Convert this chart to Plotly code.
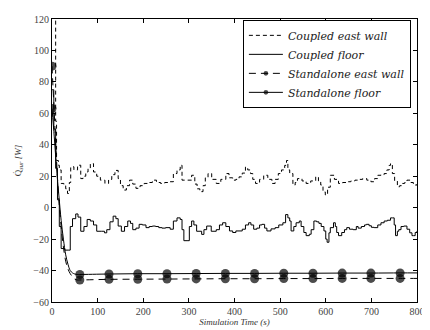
import plotly.graph_objects as go

# Coupled floor (step-like signal)
floor_t = [0, 4, 8, 12, 16, 20, 28, 37, 40, 45, 52, 57, 63, 70, 77, 84, 91, 98, 109, 115, 120, 127, 134, 140,
           145, 152, 159, 166, 172, 177, 184, 191, 198, 206, 213, 220, 227, 234, 241, 249, 259, 266, 274, 281,
           285, 289, 296, 301, 306, 311, 317, 328, 333, 339, 349, 360, 367, 374, 381, 389, 396, 403, 417, 424,
           431, 436, 442, 449, 455, 460, 466, 471, 480, 489, 497, 506, 512, 517, 521, 524, 530, 535, 542, 546,
           552, 557, 564, 568, 574, 580, 585, 590, 596, 600, 603, 607, 610, 617, 621, 624, 628, 635, 641, 646,
           652, 660, 667, 671, 678, 685, 689, 695, 700, 706, 714, 721, 728, 735, 742, 746, 750, 753, 757, 760,
           765, 771, 778, 784, 789, 792, 796, 800]
floor_v = [75, 50, 25, 5, -12, -26, -27, -27, -12, -7, -4, -6, -15, -12, -7.5, -8.5, -11, -15, -15, -16, -14, -9,
           -5.4, -7, -11.7, -15, -12, -8.5, -10, -14, -13, -10.6, -11, -12.7, -12, -11.7, -12, -12.7, -13, -12.7,
           -13.7, -8.5, -6.5, -7.5, -14, -21, -21, -12, -8.5, -11, -15, -17, -14, -11.7, -15, -14, -11, -9.6, -12,
           -14.8, -15.8, -14.8, -13.7, -11, -9.6, -11, -13.7, -13, -11, -10.6, -13, -14.8, -13.5, -12.7, -11,
           -9.6, -4.4, -6.5, -8.5, -14.8, -12, -9.6, -8.5, -12, -15.8, -17.8, -16.9, -14, -8.5, -9, -10, -12,
           -14.8, -20, -22, -16, -12.7, -9.6, -12, -15.8, -17.8, -15.8, -14, -12.7, -13.7, -14, -12, -13, -12,
           -11, -10.6, -11.5, -12.5, -12.7, -11, -9.6, -8.5, -8, -6.5, -6.5, -11, -17.8, -15, -14, -12, -11.7,
           -13.7, -16, -17.8, -17.8, -15.8, -14.8]

# Coupled east wall (step-like signal)
wall_t = [0, 5, 8, 10, 14, 16, 20, 26, 30, 34, 38, 41, 48, 56, 63, 68, 74, 79, 84, 91, 98, 106, 116, 124, 131,
          138, 145, 150, 156, 163, 170, 177, 184, 193, 202, 211, 220, 229, 238, 247, 256, 266, 274, 281, 285,
          296, 306, 313, 318, 324, 331, 336, 342, 350, 360, 370, 381, 388, 396, 403, 410, 417, 424, 429, 435,
          440, 446, 455, 464, 473, 482, 489, 496, 503, 510, 514, 517, 521, 528, 533, 538, 548, 557, 567, 578,
          584, 589, 594, 599, 604, 610, 619, 628, 637, 646, 655, 664, 672, 681, 690, 699, 707, 714, 721, 728,
          734, 739, 742, 746, 751, 757, 762, 767, 773, 778, 785, 792, 800]
wall_v = [130, 125, 55, 30, 27, 24, 15.4, 14, 12, 9, 16, 26, 24, 27, 18.5, 20, 22.7, 25, 28, 22.7, 20, 17.5,
          15.4, 18, 21, 23.7, 18.5, 14, 11.2, 14, 17.5, 15, 12.3, 14, 15.4, 16, 17.5, 16, 15.4, 16, 16.5, 21.7,
          24, 27, 17.5, 17.5, 20.6, 15, 12, 10.2, 14, 19, 21.7, 18, 15.4, 18, 21.7, 19, 17.5, 18, 19.6, 22,
          25.8, 24, 21.7, 18, 15.4, 18, 20.6, 18, 15.4, 18, 21.7, 24, 26.9, 30, 24, 21.7, 14.4, 16, 18.5, 17,
          15.4, 17, 19.6, 17, 14.4, 10, 8.1, 13, 20.6, 18, 15.4, 16, 16.5, 17, 17.5, 18, 18.5, 17.5, 16.5,
          18.5, 20.6, 21, 21.7, 24, 26.9, 28, 21.7, 17, 13.3, 14, 15.4, 16, 17.5, 16, 14.4, 15]

# Standalone runs (smooth decay)
std_t = [0, 5, 10, 15, 20, 25, 30, 35, 40, 45, 50, 55, 61, 125, 188, 252, 316, 380, 444, 508, 572, 636, 699,
         763, 800]
std_wall_v = [90, 60, 30, 5, -12, -25, -34, -39, -42, -44, -45.5, -46, -46, -45.6, -45.5, -45.4, -45.3, -45.2,
              -45.2, -45.1, -45.1, -45, -45, -45, -45]
std_floor_v = [63, 45, 25, 8, -8, -20, -30, -36, -40, -41.5, -42.2, -42.5, -42.5, -42.2, -42, -42, -41.9,
               -41.8, -41.8, -41.7, -41.7, -41.6, -41.6, -41.5, -41.5]
marker_times = [0, 61, 125, 188, 252, 316, 380, 444, 508, 572, 636, 699, 763]

x_ticks = [0, 100, 200, 300, 400, 500, 600, 700, 800]
y_ticks = [-60, -40, -20, 0, 20, 40, 60, 80, 100, 120]

msize = [9 if t in marker_times else 0 for t in std_t]

fig = go.Figure()
fig.add_trace(go.Scatter(x=wall_t, y=wall_v, mode="lines", line_shape="hv",
                         line=dict(color="black", width=1, dash="4px,3px"),
                         name="<i>Coupled east wall</i>"))
fig.add_trace(go.Scatter(x=floor_t, y=floor_v, mode="lines", line_shape="hv",
                         line=dict(color="black", width=1),
                         name="<i>Coupled floor</i>"))
fig.add_trace(go.Scatter(x=std_t, y=std_wall_v, mode="lines+markers", line_shape="spline",
                         line=dict(color="black", width=1, dash="7px,5px"),
                         marker=dict(color="black", size=msize, line=dict(width=0)),
                         name="<i>Standalone east wall</i>"))
fig.add_trace(go.Scatter(x=std_t, y=std_floor_v, mode="lines+markers", line_shape="spline",
                         line=dict(color="black", width=1),
                         marker=dict(color="black", size=msize, line=dict(width=0)),
                         name="<i>Standalone floor</i>"))

axis_common = dict(showline=True, linecolor="black", linewidth=1, mirror="ticks", ticks="inside",
                   ticklen=4, tickcolor="black", showgrid=False, zeroline=False,
                   ticklabeloverflow="allow",
                   tickfont=dict(family="Liberation Serif", size=10, color="#444"))

# the page has an 8px body margin, so the figure is sized to fit in the 430x330 window
fig.update_layout(
    width=422, height=322,
    margin=dict(l=44, r=5, t=8, b=26),
    paper_bgcolor="white", plot_bgcolor="white",
    font=dict(family="Liberation Serif", color="black"),
    xaxis=dict(range=[0, 800], tickvals=x_ticks,
               title=dict(text="<i>Simulation Time (s)</i>", font=dict(size=9, color="#333"), standoff=2),
               **axis_common),
    yaxis=dict(range=[-60, 120], tickvals=y_ticks,
               title=dict(text="Q̇<sub><i>sur</i></sub> <i>[W]</i>", font=dict(size=9, color="#333"), standoff=10),
               **axis_common),
    legend=dict(x=0.523, y=0.997, xanchor="left", yanchor="top",
                bordercolor="black", borderwidth=1, bgcolor="white",
                font=dict(family="DejaVu Serif", size=11, color="#222"),
                itemwidth=34, tracegroupgap=0),
    showlegend=True,
)

fig.write_html("out.html")
